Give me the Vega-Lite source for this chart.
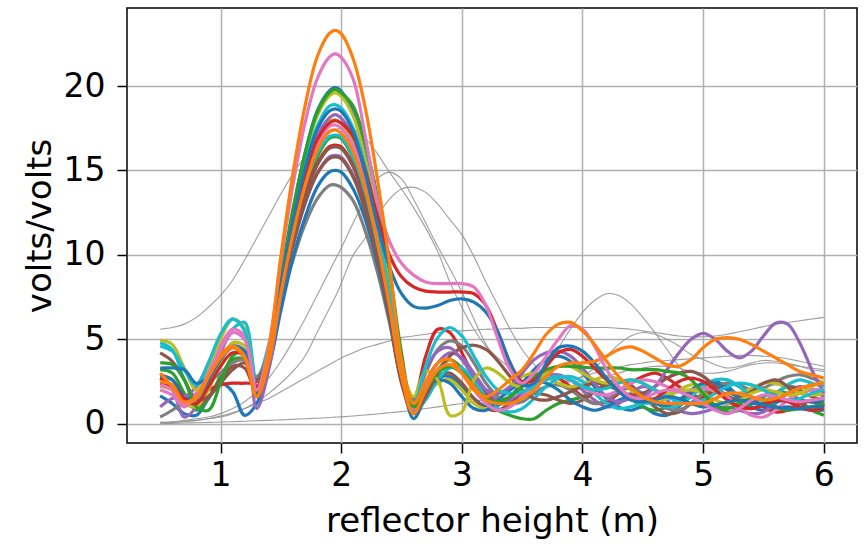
{
  "$schema": "https://vega.github.io/schema/vega-lite/v6.json",
  "autosize": {"type": "none"},
  "width": 730,
  "height": 435,
  "padding": {"left": 127, "top": 8, "right": 11, "bottom": 104},
  "background": "white",
  "config": {
    "view": {"stroke": "black", "strokeWidth": 1.5},
    "axis": {
      "grid": true, "gridColor": "#b0b0b0", "gridWidth": 1.5,
      "domain": false, "tickColor": "black", "tickSize": 10, "tickWidth": 1.5,
      "labelFont": "DejaVu Sans", "labelFontSize": 33, "labelColor": "black",
      "titleFont": "DejaVu Sans", "titleFontSize": 34, "titleFontWeight": "normal", "titleColor": "black"
    }
  },
  "data": {
    "values": [
      {"s": "g1", "t": "bg", "y": [5.6,5.7,5.9,6.3,6.9,7.6,8.5,9.7,11.0,12.3,13.6,14.8,15.8,16.6,17.2,17.4,17.5,17.4,16.9,16.0,14.9,13.9,12.8,11.6,10.2,8.4,6.9,5.6,4.6,3.9,3.3,2.9,2.9,3.5,4.5,5.6,6.6,7.3,7.7,7.6,7.1,6.3,5.4,4.4,3.4,2.6,2.1,1.8,1.7,1.8,2.0,2.2,2.3,2.3,2.2,2.1,2.0]},
      {"s": "g2", "t": "bg", "y": [0.1,0.1,0.2,0.3,0.4,0.6,0.9,1.3,1.9,2.7,3.7,4.9,6.2,7.6,9.0,9.7,10.4,11.9,13.3,14.5,14.9,14.5,13.3,11.9,10.5,9.2,7.8,6.2,4.7,3.6,2.8,2.4,2.1,2.2,2.3,2.5,2.8,3.3,4.0,4.7,5.2,5.4,5.3,5.0,4.6,4.1,3.8,3.5,3.3,3.4,3.6,3.75,3.7,3.6,3.4,3.3,3.2]},
      {"s": "g3", "t": "bg", "y": [0.05,0.1,0.15,0.2,0.3,0.4,0.6,0.9,1.3,1.8,2.4,3.1,4.0,5.4,6.8,7.5,8.3,10.0,11.0,12.3,13.3,13.9,14.0,13.7,13.0,12.1,11.2,9.9,8.4,7.0,5.6,4.4,3.5,2.9,2.6,2.5,2.5,2.6,2.8,3.0,3.2,3.3,3.4,3.4,3.3,3.1,3.0,3.0,3.1,3.3,3.5,3.6,3.6,3.5,3.4,3.2,3.1]},
      {"s": "g4", "t": "bg", "y": [0.05,0.08,0.12,0.2,0.3,0.45,0.65,0.9,1.2,1.5,1.9,2.3,2.7,3.1,3.5,3.7,3.9,4.2,4.5,4.7,4.9,5.1,5.2,5.3,5.4,5.5,5.5,5.55,5.6,5.6,5.65,5.65,5.7,5.7,5.7,5.7,5.7,5.7,5.7,5.65,5.6,5.5,5.4,5.3,5.2,5.15,5.15,5.2,5.3,5.45,5.6,5.75,5.9,6.0,6.1,6.2,6.3]},
      {"s": "g5", "t": "bg", "y": [0.0,0.02,0.04,0.06,0.08,0.1,0.12,0.15,0.18,0.2,0.23,0.26,0.3,0.33,0.37,0.39,0.41,0.46,0.52,0.58,0.65,0.72,0.8,0.9,1.0,1.1,1.2,1.32,1.45,1.6,1.75,1.9,2.05,2.2,2.4,2.6,2.8,3.0,3.2,3.35,3.5,3.6,3.7,3.75,3.8,3.85,3.9,3.95,4.0,4.05,4.05,4.0,3.95,3.85,3.7,3.55,3.4]},
      {"s": "c01", "t": "fg", "y": [1.65,1.2,0.6,0.5,1.5,2.4,1.9,0.5,1.2,3.5,8.2,12.5,16.0,18.5,19.7,19.9,19.7,18.4,15.9,12.4,8.0,3.1,0.3,1.6,2.7,2.8,2.2,1.5,1.0,1.1,1.6,2.4,3.2,3.8,4.0,3.7,3.0,2.2,1.5,1.0,0.8,1.0,0.6,0.5,1.0,1.8,2.4,2.5,2.2,1.6,1.0,0.8,0.9,1.0,0.9,0.8,0.8]},
      {"s": "c02", "t": "fg", "y": [3.2,3.0,1.8,0.8,1.5,2.8,3.8,3.8,1.8,3.8,7.6,11.1,13.9,15.8,16.9,17.0,16.9,15.7,13.6,10.6,6.8,2.7,0.6,1.8,3.2,3.8,3.3,2.3,1.3,0.8,0.5,0.3,0.3,0.8,1.2,1.4,1.6,2.0,2.2,2.0,1.5,1.0,0.8,1.0,1.4,1.6,1.4,1.0,0.7,0.8,1.2,1.6,1.9,1.8,1.4,0.8,0.5]},
      {"s": "c03", "t": "fg", "y": [2.7,2.2,1.4,1.5,2.0,2.3,2.4,2.4,2.5,4.4,7.9,11.1,13.6,15.4,16.4,16.5,16.4,15.3,13.3,10.4,6.9,3.0,1.5,4.0,5.6,5.4,4.2,2.8,1.8,1.4,1.6,2.2,2.8,3.0,2.7,2.2,1.6,1.2,1.3,1.8,2.4,2.8,3.0,2.7,2.2,1.7,1.6,2.0,2.4,2.2,1.6,1.0,0.7,0.8,1.2,1.3,1.0]},
      {"s": "c04", "t": "fg", "y": [2.4,2.0,0.4,1.0,2.6,4.2,5.4,5.0,1.8,3.8,7.3,10.5,13.0,14.8,15.8,15.9,15.8,14.7,12.7,9.9,6.5,2.6,0.8,2.4,3.6,4.2,3.9,3.0,2.0,1.4,1.4,1.8,2.4,2.8,2.9,2.6,2.0,1.4,1.0,1.2,1.8,2.2,2.0,1.4,0.8,0.6,0.7,0.9,1.0,0.8,0.6,0.7,1.2,1.8,2.2,2.0,1.6]},
      {"s": "c05", "t": "fg", "y": [2.9,2.6,1.6,1.0,1.6,2.6,3.4,3.3,1.8,3.7,7.4,10.7,13.4,15.3,16.3,16.4,16.3,15.2,13.1,10.2,6.7,2.7,0.8,1.8,2.8,3.0,2.4,1.5,0.9,0.8,1.2,1.6,1.8,1.7,1.4,1.2,1.4,1.9,2.4,2.6,2.3,1.6,1.0,0.6,0.7,1.2,1.8,2.0,1.7,1.2,0.9,1.2,1.8,2.2,2.0,1.6,1.4]},
      {"s": "c06", "t": "fg", "y": [0.4,0.8,1.3,1.8,2.4,3.0,3.6,3.8,2.8,4.3,7.2,9.7,11.8,13.3,14.1,14.15,14.0,13.2,11.4,9.0,6.0,2.7,1.4,3.0,4.4,4.9,4.6,3.6,2.4,1.6,1.2,1.3,1.8,2.2,2.3,2.0,1.5,1.2,1.4,1.9,2.1,1.8,1.3,0.9,0.8,1.2,1.8,2.2,2.4,2.3,2.0,2.1,2.5,2.8,2.9,2.7,2.4]},
      {"s": "c07", "t": "fg", "y": [2.2,2.0,1.2,1.0,2.0,3.6,4.8,4.6,2.2,4.1,8.1,11.7,14.7,16.8,17.9,18.0,17.8,16.7,14.4,11.2,7.2,2.8,0.6,1.6,2.4,2.6,2.0,1.2,0.9,1.4,2.2,2.8,3.0,2.8,2.4,2.2,2.3,2.6,2.8,2.6,2.0,1.4,1.2,1.5,2.0,2.3,2.2,1.9,1.7,1.8,2.1,2.4,2.4,2.1,1.8,1.7,1.8]},
      {"s": "c08", "t": "fg", "y": [4.8,4.4,2.6,1.4,2.6,4.4,5.6,6.0,2.6,4.7,8.3,11.5,14.1,16.0,17.0,17.1,17.0,15.8,13.7,10.6,6.9,2.7,0.7,1.4,2.6,3.3,3.3,2.6,1.6,0.9,0.7,0.9,1.5,2.2,2.7,2.8,2.5,1.8,1.2,0.9,1.0,1.2,1.2,1.0,1.1,1.6,2.2,2.6,2.6,2.2,1.6,1.4,1.7,2.3,2.6,2.4,2.2]},
      {"s": "c09", "t": "fg", "y": [2.8,2.6,1.6,1.6,2.6,3.8,4.5,4.2,1.8,3.4,6.7,9.8,12.2,14.0,14.9,15.0,14.9,13.9,12.1,9.5,6.2,2.7,1.0,2.0,2.6,2.4,1.6,0.9,0.8,1.4,2.0,2.4,2.6,2.4,2.0,1.4,1.0,0.8,1.0,1.4,1.6,1.5,1.2,1.1,1.4,2.0,2.4,2.4,2.0,1.5,1.2,1.2,1.3,1.4,1.4,1.3,1.3]},
      {"s": "c10", "t": "fg", "y": [4.2,3.7,2.6,1.4,1.6,2.4,3.2,3.6,2.6,4.3,7.7,10.6,13.1,14.8,15.7,15.8,15.7,14.6,12.6,9.8,6.3,2.4,0.6,1.6,3.0,4.0,4.5,4.65,4.4,3.7,2.8,2.0,1.5,1.4,1.6,1.9,2.2,2.4,2.3,2.0,1.7,1.8,2.2,2.7,3.0,3.1,2.8,2.2,1.6,1.5,1.9,2.4,2.6,2.2,1.3,0.8,1.2]},
      {"s": "c11", "t": "fg", "y": [1.0,1.5,1.6,2.2,3.6,5.2,6.2,5.6,0.9,3.2,7.6,11.5,14.7,17.0,18.1,18.3,18.1,17.0,14.7,11.5,7.5,3.1,1.2,3.2,4.3,4.5,3.8,2.8,2.0,1.8,2.2,3.0,3.8,4.2,4.3,4.0,3.3,2.4,1.6,1.3,1.5,1.6,2.2,3.2,4.2,5.0,5.35,5.0,4.3,3.9,4.3,5.2,5.95,5.9,4.8,3.2,1.8]},
      {"s": "c12", "t": "fg", "y": [2.0,1.7,1.0,1.8,3.2,4.6,5.6,5.2,2.2,4.2,8.1,11.6,14.5,16.5,17.6,17.7,17.5,16.4,14.2,11.1,7.2,2.9,0.9,2.2,3.2,3.5,3.0,2.0,1.2,0.8,1.0,1.6,2.2,2.6,2.8,2.6,2.2,1.8,1.7,2.0,2.4,2.6,2.5,2.2,2.0,2.0,2.1,2.0,1.6,1.0,0.5,0.4,0.8,1.4,1.8,2.0,2.0]},
      {"s": "c13", "t": "fg", "y": [4.95,4.7,3.3,2.0,3.2,5.0,6.2,5.6,2.0,4.1,8.6,12.6,15.9,18.2,19.4,19.6,19.4,18.2,15.7,12.3,8.1,3.4,1.6,3.1,2.6,0.5,0.7,2.6,3.3,3.0,2.4,2.2,2.5,3.0,3.4,3.4,3.0,2.6,2.4,2.5,2.6,2.4,2.0,1.8,1.9,2.0,1.8,1.4,1.2,1.4,1.8,2.0,1.9,1.7,1.8,2.2,2.5]},
      {"s": "c14", "t": "fg", "y": [4.6,4.3,3.2,2.3,3.6,5.3,6.2,5.5,2.2,4.4,8.6,12.4,15.4,17.6,18.8,18.9,18.7,17.5,15.2,11.8,7.7,3.2,1.2,3.4,5.1,5.7,5.2,4.0,2.8,2.0,1.8,1.9,2.2,2.6,2.8,2.6,2.2,2.0,2.1,2.4,2.6,2.4,2.0,1.6,1.3,1.2,1.4,1.8,2.2,2.4,2.3,2.0,1.6,1.4,1.5,1.8,2.0]},
      {"s": "c15", "t": "fg", "y": [3.6,3.5,2.6,1.0,0.8,2.4,4.0,4.3,1.6,4.0,8.6,12.7,16.0,18.4,19.6,19.8,19.6,18.8,16.6,13.4,9.2,4.2,1.0,2.0,3.0,3.4,3.0,2.2,1.5,1.3,1.6,2.2,2.8,3.2,3.4,3.4,3.35,3.3,3.3,3.3,3.2,3.2,3.2,3.1,3.0,2.6,1.8,1.1,0.9,1.2,1.5,1.4,1.0,0.8,0.9,1.0,1.2]},
      {"s": "c16", "t": "fg", "y": [2.4,2.2,1.5,1.2,2.2,3.4,4.2,4.0,2.2,4.3,8.2,11.8,14.7,16.8,17.8,17.95,17.8,17.0,15.0,12.3,10.0,8.7,8.1,7.85,7.8,7.8,7.8,7.7,7.0,5.4,3.6,2.5,2.6,3.4,4.2,4.4,4.0,3.3,2.6,2.0,1.6,1.4,1.5,2.0,2.5,2.7,2.5,2.0,1.4,1.0,0.9,1.1,1.4,1.3,1.0,0.8,0.9]},
      {"s": "c17", "t": "fg", "y": [3.3,3.3,3.2,2.4,2.8,4.0,4.6,4.3,1.6,3.8,8.1,12.0,15.1,17.4,18.5,18.65,18.5,17.3,14.8,11.8,9.3,7.7,6.95,6.85,7.0,7.3,7.4,7.2,6.6,5.4,3.6,2.3,2.4,3.6,4.5,4.6,4.3,3.6,2.7,1.9,1.4,1.3,1.4,1.6,1.5,1.2,1.0,1.1,1.3,1.4,1.3,1.1,1.0,0.9,0.9,1.0,1.0]},
      {"s": "c18", "t": "fg", "y": [2.5,2.3,1.2,1.5,2.8,4.1,4.6,4.0,1.6,3.7,7.7,11.2,14.1,16.2,17.3,17.4,17.2,16.1,13.9,10.8,7.0,2.8,0.6,2.0,3.2,3.5,3.0,2.2,1.4,1.2,1.2,1.5,2.0,2.8,3.4,3.6,3.6,3.7,4.0,4.4,4.55,4.3,3.9,3.5,3.4,3.8,4.5,5.0,5.1,5.0,4.7,4.3,3.9,3.5,3.1,2.9,2.7]},
      {"s": "c19", "t": "fg", "y": [2.3,2.0,1.2,1.6,3.0,4.4,5.4,5.0,2.0,4.6,9.6,14.1,17.8,20.4,21.7,21.9,21.7,20.4,17.0,13.2,10.8,9.5,8.8,8.4,8.3,8.3,8.3,8.1,7.0,5.0,3.2,2.4,3.0,4.0,5.0,5.8,5.6,4.6,3.2,2.2,1.6,1.5,1.8,2.0,1.9,1.6,1.2,0.8,0.6,0.9,1.4,1.7,1.6,1.4,1.3,1.4,1.5]},
      {"s": "c20", "t": "fg", "y": [3.0,2.2,1.3,1.6,2.8,3.9,4.5,3.9,1.6,4.4,9.9,14.8,18.8,21.7,23.1,23.3,23.1,21.6,18.7,14.5,9.5,3.8,1.2,2.5,3.6,3.8,3.0,2.0,1.6,2.0,2.6,3.2,4.2,5.3,5.9,6.0,5.5,4.7,3.7,2.8,2.1,1.6,1.3,1.2,1.2,1.2,1.2,1.5,1.8,1.8,1.6,1.4,1.5,1.8,2.1,2.3,2.4]}
    ]
  },
  "transform": [
    {"lookup": "t", "from": {"data": {"values": [
      {"t": "bg", "x": [0.5,0.6,0.7,0.8,0.9,1.0,1.1,1.2,1.3,1.4,1.5,1.6,1.7,1.8,1.9,1.95,2.0,2.1,2.2,2.3,2.4,2.5,2.6,2.7,2.8,2.9,3.0,3.1,3.2,3.3,3.4,3.5,3.6,3.7,3.8,3.9,4.0,4.1,4.2,4.3,4.4,4.5,4.6,4.7,4.8,4.9,5.0,5.1,5.2,5.3,5.4,5.5,5.6,5.7,5.8,5.9,6.0]},
      {"t": "fg", "x": [0.5,0.6,0.7,0.8,0.9,1.0,1.1,1.2,1.3,1.4,1.5,1.6,1.7,1.8,1.9,1.95,2.0,2.1,2.2,2.3,2.4,2.5,2.6,2.7,2.8,2.9,3.0,3.1,3.2,3.3,3.4,3.5,3.6,3.7,3.8,3.9,4.0,4.1,4.2,4.3,4.4,4.5,4.6,4.7,4.8,4.9,5.0,5.1,5.2,5.3,5.4,5.5,5.6,5.7,5.8,5.9,6.0]}
    ]}, "key": "t", "fields": ["x"]}},
    {"flatten": ["x", "y"]}
  ],
  "layer": [
    {
      "transform": [{"filter": {"field": "t", "equal": "bg"}}],
      "mark": {"type": "line", "interpolate": "catmull-rom", "color": "#939393", "strokeWidth": 1.1, "opacity": 0.9},
      "encoding": {
        "x": {"field": "x", "type": "quantitative", "scale": {"domain": [0.225, 6.275], "nice": false, "zero": false},
              "axis": {"values": [1,2,3,4,5,6], "format": "d", "title": "reflector height (m)", "labelPadding": 6, "titlePadding": 12}},
        "y": {"field": "y", "type": "quantitative", "scale": {"domain": [-1.14, 24.62], "nice": false, "zero": false},
              "axis": {"values": [0,5,10,15,20], "format": "d", "title": "volts/volts", "labelPadding": 12, "titlePadding": 6}},
        "detail": {"field": "s", "type": "nominal"}
      }
    },
    {
      "transform": [{"filter": {"field": "t", "equal": "fg"}}],
      "mark": {"type": "line", "interpolate": "catmull-rom", "strokeWidth": 3.2},
      "encoding": {
        "x": {"field": "x", "type": "quantitative"},
        "y": {"field": "y", "type": "quantitative"},
        "color": {"field": "s", "type": "nominal", "legend": null,
          "scale": {"domain": ["c01","c02","c03","c04","c05","c06","c07","c08","c09","c10","c11","c12","c13","c14","c15","c16","c17","c18","c19","c20"],
                    "range": ["#1f77b4","#2ca02c","#d62728","#9467bd","#8c564b","#7f7f7f","#bcbd22","#17becf","#1f77b4","#8c564b","#9467bd","#e377c2","#bcbd22","#17becf","#2ca02c","#d62728","#1f77b4","#ff7f0e","#e377c2","#ff7f0e"]}}
      }
    }
  ]
}
